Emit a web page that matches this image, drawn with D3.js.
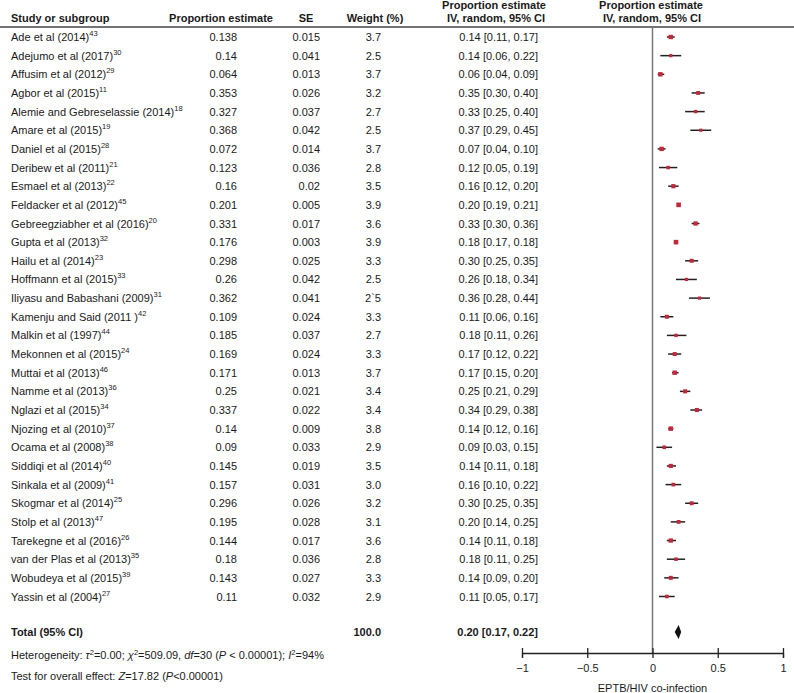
<!DOCTYPE html>
<html><head><meta charset="utf-8">
<script src="https://cdn.jsdelivr.net/npm/d3@7"></script>
<style>body{margin:0;background:#fff}svg{display:block}</style>
</head><body>
<script>
const studies = ["Ade et al (2014)","Adejumo et al (2017)","Affusim et al (2012)","Agbor et al (2015)","Alemie and Gebreselassie (2014)","Amare et al (2015)","Daniel et al (2015)","Deribew et al (2011)","Esmael et al (2013)","Feldacker et al (2012)","Gebreegziabher et al (2016)","Gupta et al (2013)","Hailu et al (2014)","Hoffmann et al (2015)","Iliyasu and Babashani (2009)","Kamenju and Said (2011 )","Malkin et al (1997)","Mekonnen et al (2015)","Muttai et al (2013)","Namme et al (2013)","Nglazi et al (2015)","Njozing et al (2010)","Ocama et al (2008)","Siddiqi et al (2014)","Sinkala et al (2009)","Skogmar et al (2014)","Stolp et al (2013)","Tarekegne et al (2016)","van der Plas et al (2013)","Wobudeya et al (2015)","Yassin et al (2004)"];
const refs = ["43","30","29","11","18","19","28","21","22","45","20","32","23","33","31","42","44","24","46","36","34","37","38","40","41","25","47","26","35","39","27"];
const propText = ["0.138","0.14","0.064","0.353","0.327","0.368","0.072","0.123","0.16","0.201","0.331","0.176","0.298","0.26","0.362","0.109","0.185","0.169","0.171","0.25","0.337","0.14","0.09","0.145","0.157","0.296","0.195","0.144","0.18","0.143","0.11"];
const seText = ["0.015","0.041","0.013","0.026","0.037","0.042","0.014","0.036","0.02","0.005","0.017","0.003","0.025","0.042","0.041","0.024","0.037","0.024","0.013","0.021","0.022","0.009","0.033","0.019","0.031","0.026","0.028","0.017","0.036","0.027","0.032"];
const weightText = ["3.7","2.5","3.7","3.2","2.7","2.5","3.7","2.8","3.5","3.9","3.6","3.9","3.3","2.5","2`5","3.3","2.7","3.3","3.7","3.4","3.4","3.8","2.9","3.5","3.0","3.2","3.1","3.6","2.8","3.3","2.9"];
const est = [0.14,0.14,0.06,0.35,0.33,0.37,0.07,0.12,0.16,0.20,0.33,0.18,0.30,0.26,0.36,0.11,0.18,0.17,0.17,0.25,0.34,0.14,0.09,0.14,0.16,0.30,0.20,0.14,0.18,0.14,0.11];
const ciLow = [0.11,0.06,0.04,0.30,0.25,0.29,0.04,0.05,0.12,0.19,0.30,0.17,0.25,0.18,0.28,0.06,0.11,0.12,0.15,0.21,0.29,0.12,0.03,0.11,0.10,0.25,0.14,0.11,0.11,0.09,0.05];
const ciHigh = [0.17,0.22,0.09,0.40,0.40,0.45,0.10,0.19,0.20,0.21,0.36,0.18,0.35,0.34,0.44,0.16,0.26,0.22,0.20,0.29,0.38,0.16,0.15,0.18,0.22,0.35,0.25,0.18,0.25,0.20,0.17];
const total = {est:0.20, low:0.17, high:0.22, weight:"100.0"};
const xTicks = [-1,-0.5,0,0.5,1];
const xTickLabels = ["\u22121","\u22120.5","0","0.5","1"];

const W = 794, H = 693;
const FONT = "'Liberation Sans', Arial, Helvetica, sans-serif";
const svg = d3.select("body").append("svg").attr("width", W).attr("height", H)
  .style("font-family", FONT).style("font-size", "11px");

const rowY = d3.scaleLinear().domain([0, studies.length - 1]).range([37, 596.5]);
const x = d3.scaleLinear().domain([-1, 1]).range([522, 783]);
const sq = d3.scaleLinear().domain([2.5, 3.9]).range([3.2, 4.6]);
const txtCol = "#1a1a1a";

// header
const hdr = svg.append("g").attr("font-weight", "bold").attr("fill", txtCol);
hdr.append("text").attr("x", 11).attr("y", 22).text("Study or subgroup");
hdr.append("text").attr("x", 221).attr("y", 22).attr("text-anchor", "middle").text("Proportion estimate");
hdr.append("text").attr("x", 306).attr("y", 22).attr("text-anchor", "middle").text("SE");
hdr.append("text").attr("x", 375).attr("y", 22).attr("text-anchor", "middle").text("Weight (%)");
hdr.append("text").attr("x", 494).attr("y", 9).attr("text-anchor", "middle").text("Proportion estimate");
hdr.append("text").attr("x", 496).attr("y", 22).attr("text-anchor", "middle").text("IV, random, 95% CI");
hdr.append("text").attr("x", 651).attr("y", 9).attr("text-anchor", "middle").text("Proportion estimate");
hdr.append("text").attr("x", 652).attr("y", 22).attr("text-anchor", "middle").text("IV, random, 95% CI");
svg.append("line").attr("x1", 0).attr("x2", W).attr("y1", 27).attr("y2", 27)
  .attr("stroke", "#444").attr("stroke-width", 1.5);

// zero line
svg.append("line").attr("x1", x(0)).attr("x2", x(0)).attr("y1", 27).attr("y2", 653)
  .attr("stroke", "#777").attr("stroke-width", 1.5);

// rows
const rows = svg.append("g").attr("fill", txtCol);
studies.forEach((s, i) => {
  const y = rowY(i) + 4;
  const t = rows.append("text").attr("x", 11).attr("y", y);
  t.append("tspan").text(s);
  t.append("tspan").attr("font-size", "7.5px").attr("dy", -5).text(refs[i]);
  rows.append("text").attr("x", 237).attr("y", y).attr("text-anchor", "end").text(propText[i]);
  rows.append("text").attr("x", 320).attr("y", y).attr("text-anchor", "end").text(seText[i]);
  rows.append("text").attr("x", 381).attr("y", y).attr("text-anchor", "end").text(weightText[i]);
  rows.append("text").attr("x", 538).attr("y", y).attr("text-anchor", "end")
    .text(`${est[i].toFixed(2)} [${ciLow[i].toFixed(2)}, ${ciHigh[i].toFixed(2)}]`);
});

// forest marks
const marks = svg.append("g");
studies.forEach((s, i) => {
  const y = rowY(i);
  marks.append("line").attr("x1", x(ciLow[i])).attr("x2", x(ciHigh[i]))
    .attr("y1", y).attr("y2", y).attr("stroke", "#222").attr("stroke-width", 1.5);
  const w = parseFloat(weightText[i].replace("`", "."));
  const side = sq(w);
  marks.append("rect").attr("x", x(est[i]) - side / 2).attr("y", y - side / 2)
    .attr("width", side).attr("height", side).attr("fill", "#c0283c");
});

// total
const yT = 632;
svg.append("text").attr("x", 11).attr("y", yT + 4).attr("font-weight", "bold").attr("fill", txtCol).text("Total (95% CI)");
svg.append("text").attr("x", 381).attr("y", yT + 4).attr("font-weight", "bold").attr("text-anchor", "end").attr("fill", txtCol).text(total.weight);
svg.append("text").attr("x", 538).attr("y", yT + 4).attr("font-weight", "bold").attr("text-anchor", "end").attr("fill", txtCol)
  .text(`${total.est.toFixed(2)} [${total.low.toFixed(2)}, ${total.high.toFixed(2)}]`);
svg.append("polygon").attr("fill", "#111")
  .attr("points", [[x(total.low), yT], [x(total.est), yT - 7], [x(total.high), yT], [x(total.est), yT + 7]].map(p => p.join(",")).join(" "));

// heterogeneity
const het = svg.append("text").attr("x", 11).attr("y", 659).attr("fill", txtCol);
het.append("tspan").text("Heterogeneity: ");
het.append("tspan").attr("font-style", "italic").text("\u03C4");
het.append("tspan").attr("font-size", "7.5px").attr("dy", -4).text("2");
het.append("tspan").attr("dy", 4).text("=0.00; ");
het.append("tspan").attr("font-style", "italic").text("\u03C7");
het.append("tspan").attr("font-size", "7.5px").attr("dy", -4).text("2");
het.append("tspan").attr("dy", 4).text("=509.09, ");
het.append("tspan").attr("font-style", "italic").text("df");
het.append("tspan").text("=30 (");
het.append("tspan").attr("font-style", "italic").text("P");
het.append("tspan").text(" < 0.00001); ");
het.append("tspan").attr("font-style", "italic").text("I");
het.append("tspan").attr("font-size", "7.5px").attr("dy", -4).text("2");
het.append("tspan").attr("dy", 4).text("=94%");

const tst = svg.append("text").attr("x", 11).attr("y", 680).attr("fill", txtCol);
tst.append("tspan").text("Test for overall effect: ");
tst.append("tspan").attr("font-style", "italic").text("Z");
tst.append("tspan").text("=17.82 (");
tst.append("tspan").attr("font-style", "italic").text("P");
tst.append("tspan").text("<0.00001)");

// axis
const axisY = 653;
const ax = svg.append("g").attr("transform", `translate(0,${axisY})`)
  .call(d3.axisBottom(x).tickValues(xTicks).tickSizeOuter(0).tickSize(5)
    .tickFormat((d, i) => xTickLabels[i]));
ax.select(".domain").attr("stroke", "#222").attr("stroke-width", 1.3);
ax.selectAll(".tick line").attr("y1", -5).attr("y2", 5).attr("stroke", "#222").attr("stroke-width", 1.3);
ax.selectAll(".tick text").attr("y", 11).attr("font-size", "11px").attr("font-family", FONT).attr("fill", txtCol);
svg.append("text").attr("x", x(0)).attr("y", 693 - 1).attr("text-anchor", "middle").attr("fill", txtCol).text("EPTB/HIV co-infection");
</script>
</body></html>
